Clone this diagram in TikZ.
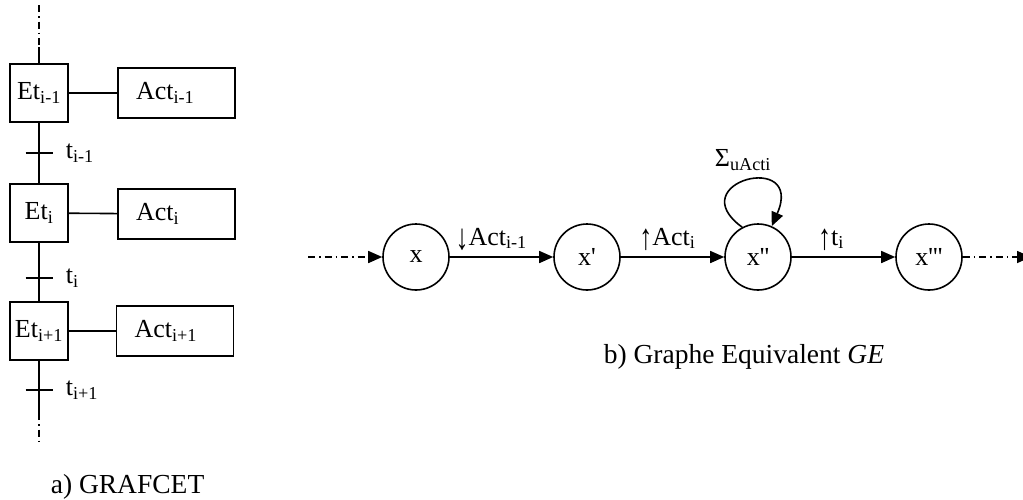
\documentclass[tikz,border=0pt]{standalone}
\usepackage{fontspec}
\setmainfont{Liberation Serif}[Ligatures=TeXOff]
\usetikzlibrary{arrows.meta,positioning}
\newcommand{\sbs}[1]{\textsubscript{#1}}
\newcommand{\fl}[1]{\raisebox{-4pt}{\scalebox{1}[1.4]{#1}}}
\begin{document}
\begin{tikzpicture}[x=1pt,y=-1pt,line width=1.6pt,
    every node/.style={font=\fontsize{26pt}{30pt}\selectfont},
    etape/.style={draw,minimum width=58pt,minimum height=58pt,inner sep=0pt},
    actbox/.style={draw,minimum height=50pt,text width=81pt,inner xsep=18pt,inner ysep=0pt,align=left},
    etat/.style={draw,circle,minimum size=66pt,inner sep=0pt},
    lbl/.style={inner sep=2pt},
    legende/.style={anchor=base west,inner sep=0pt,font=\fontsize{27.5pt}{32pt}\selectfont},
    dashdot/.style={dash pattern=on 7pt off 4pt on 1.5pt off 4pt},
    fleche/.style={-{Triangle[length=14pt,width=12pt]}}]
  \useasboundingbox (0,0) rectangle (1023,499);
  % a) GRAFCET
  \node[etape] (e1) at (39,93) {Et\sbs{i-1}};
  \node[etape] (e2) at (39,213) {Et\sbs{i}};
  \node[etape] (e3) at (39,331) {Et\sbs{i+1}};
  \node[actbox] (a1) at (176.5,93) {Act\sbs{i-1}};
  \node[actbox] (a2) at (176.5,214) {Act\sbs{i}};
  \node[actbox] (a3) at (175,331) {Act\sbs{i+1}};
  \foreach \n in {1,2,3}
    \draw (e\n) -- (a\n);
  %
  \coordinate (haut0) at (39,5);
  \coordinate (haut) at (39,47);
  \coordinate (bas) at (39,413);
  \coordinate (bas0) at (39,442);
  \coordinate (t1) at (39,153);
  \coordinate (t2) at (39,278);
  \coordinate (t3) at (39,390);
  \draw[dashdot] (haut0) -- (haut);
  \draw (haut) -- (e1);
  \draw (e1) -- (e2);
  \draw (e2) -- (e3);
  \draw (e3) -- (bas);
  \draw[dashdot] (bas) -- (bas0);
  \foreach \n/\txt in {1/i-1,2/i,3/i+1}{
    \draw ([xshift=-13.5pt]t\n) -- ([xshift=13.5pt]t\n);
    \node[lbl,right=24pt of t\n] (lt\n) {t\sbs{\txt}};
  }
  \node[legende] (legA) at (50,493) {a) GRAFCET};
  % b) graphe equivalent
  \node[etat] (x0) at (416,257) {x};
  \node[etat] (x1) at (587,257) {x'};
  \node[etat] (x2) at (758,257) {x''};
  \node[etat] (x3) at (929,257) {x'''};
  \coordinate (entree) at (308,257);
  \coordinate (sortie) at (1031,257);
  \draw[dashdot,fleche] (entree) -- (x0);
  \draw[fleche] (x0) -- node[lbl,above=4pt,pos=0.4] {\fl{↓}Act\sbs{i-1}} (x1);
  \draw[fleche] (x1) -- node[lbl,above=4pt,pos=0.45] {\fl{↑}Act\sbs{i}} (x2);
  \draw[fleche] (x2) -- node[lbl,above=4pt,pos=0.38] {\fl{↑}t\sbs{i}} (x3);
  \draw[dashdot,fleche] (x3) -- (sortie);
  \draw[fleche] (x2.118) .. controls (680,182) and (805,150) .. (x2.66);
  \node (sigma) at (743,160) {Σ\sbs{uActi}};
  \node[legende] (legB) at (603,363) {b) Graphe Equivalent \textit{GE}};
\end{tikzpicture}
\end{document}
